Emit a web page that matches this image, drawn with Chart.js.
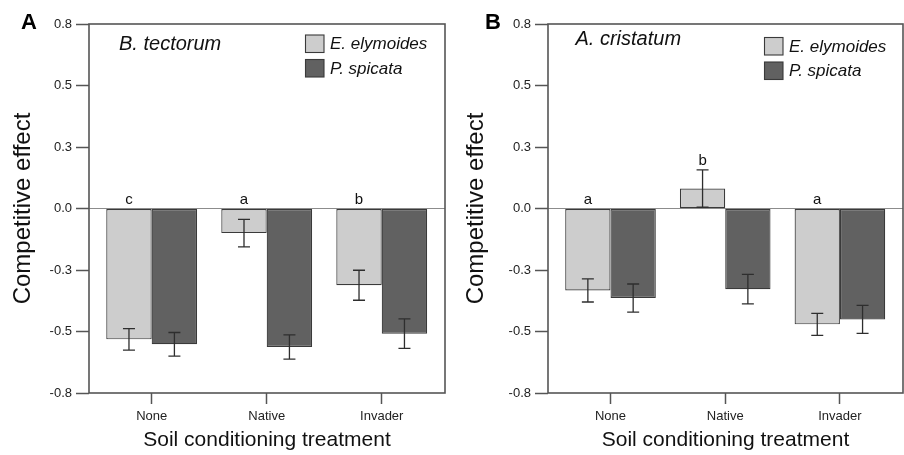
<!DOCTYPE html>
<html><head><meta charset="utf-8">
<script src="https://cdn.jsdelivr.net/npm/chart.js@4.4.1/dist/chart.umd.min.js"></script>
<style>
html,body{margin:0;padding:0;background:#fff;}
#wrap{position:relative;width:904px;height:455px;overflow:hidden;background:#fff;}
canvas{position:absolute;top:0;}
</style></head><body>
<div id="wrap">
<canvas id="cA" width="459" height="455" style="left:0;width:459px;height:455px"></canvas>
<canvas id="cB" width="445" height="455" style="left:459px;width:445px;height:455px"></canvas>
</div>
<script>
// ---- data ----
const categories = ['None', 'Native', 'Invader'];
const seriesNames = ['E. elymoides', 'P. spicata'];
const yTickValues = [-0.75, -0.5, -0.25, 0, 0.25, 0.5, 0.75];

// Panel A: B. tectorum
const tectorumElymoides    = [-0.532, -0.100, -0.312];
const tectorumElymoidesErr = [0.044, 0.056, 0.061];
const tectorumSpicata      = [-0.552, -0.563, -0.509];
const tectorumSpicataErr   = [0.048, 0.049, 0.060];
const tectorumLetters      = ['c', 'a', 'b'];

// Panel B: A. cristatum
const cristatumElymoides    = [-0.333, 0.081, -0.471];
const cristatumElymoidesErr = [0.047, 0.076, 0.045];
const cristatumSpicata      = [-0.364, -0.328, -0.451];
const cristatumSpicataErr   = [0.057, 0.060, 0.057];
const cristatumLetters      = ['a', 'b', 'a'];

// ---- styling ----
const FONT = "'Liberation Sans', Arial, Helvetica, sans-serif";
Chart.defaults.font.family = FONT;
const LIGHT = '#cdcdcd';
const DARK = '#616161';
const EDGE = '#3a3a3a';
const AXIS = '#555555';

function decorPlugin(p) {
  return {
    id: 'decor' + p.panel,
    afterDatasetsDraw(chart) {
      const ctx = chart.ctx, ys = chart.scales.y;
      // error bars
      chart.data.datasets.forEach((ds, di) => {
        const meta = chart.getDatasetMeta(di);
        meta.data.forEach((el, i) => {
          const v = ds.data[i].y, e = ds.errors[i];
          const x = el.x, yt = ys.getPixelForValue(v + e), yb = ys.getPixelForValue(v - e);
          ctx.save();
          ctx.strokeStyle = '#2e2e2e'; ctx.lineWidth = 1.3;
          ctx.beginPath();
          ctx.moveTo(x, yt); ctx.lineTo(x, yb);
          ctx.moveTo(x - 6, yt); ctx.lineTo(x + 6, yt);
          ctx.moveTo(x - 6, yb); ctx.lineTo(x + 6, yb);
          ctx.stroke();
          ctx.restore();
        });
      });
      // significance letters over first series
      const ds0 = chart.data.datasets[0], m0 = chart.getDatasetMeta(0);
      ctx.save();
      ctx.fillStyle = '#111'; ctx.font = '15px ' + FONT;
      ctx.textAlign = 'center'; ctx.textBaseline = 'alphabetic';
      m0.data.forEach((el, i) => {
        const v = ds0.data[i].y, e = ds0.errors[i];
        const anchor = v > 0 ? v + e : 0;
        ctx.fillText(p.letters[i], el.x, ys.getPixelForValue(anchor) - 5);
      });
      ctx.restore();
    },
    afterDraw(chart) {
      const ctx = chart.ctx, a = chart.chartArea;
      ctx.save();
      // frame
      ctx.strokeStyle = AXIS; ctx.lineWidth = 1.6;
      ctx.strokeRect(a.left, a.top, a.right - a.left, a.bottom - a.top);
      // panel letter
      ctx.fillStyle = '#000'; ctx.font = 'bold 22px ' + FONT;
      ctx.textAlign = 'left'; ctx.textBaseline = 'alphabetic';
      ctx.fillText(p.panel, p.panelX, 28.5);
      // species label
      ctx.fillStyle = '#111'; ctx.font = 'italic 20px ' + FONT;
      ctx.fillText(p.species, a.left + p.speciesDX, p.speciesY);
      // legend
      ctx.font = 'italic 17px ' + FONT; ctx.textBaseline = 'middle';
      chart.data.datasets.forEach((ds, di) => {
        const bx = a.right - p.legendDX, by = p.legendY + di * 24.5;
        ctx.fillStyle = ds.backgroundColor;
        ctx.fillRect(bx, by, 18.5, 17.5);
        ctx.strokeStyle = EDGE; ctx.lineWidth = 1.1;
        ctx.strokeRect(bx, by, 18.5, 17.5);
        ctx.fillStyle = '#111';
        ctx.fillText(ds.label, bx + 24.5, by + 9.5);
      });
      ctx.restore();
    }
  };
}

function makePanel(id, p) {
  return new Chart(document.getElementById(id), {
    type: 'bar',
    data: {
      datasets: [
        { label: seriesNames[0], data: p.s1.map((v, i) => ({ x: i, y: v })), errors: p.e1,
          backgroundColor: LIGHT, borderColor: EDGE, borderWidth: 1.2, borderSkipped: false },
        { label: seriesNames[1], data: p.s2.map((v, i) => ({ x: i, y: v })), errors: p.e2,
          backgroundColor: DARK, borderColor: EDGE, borderWidth: 1.2, borderSkipped: false }
      ]
    },
    options: {
      responsive: false,
      animation: false,
      devicePixelRatio: 1,
      categoryPercentage: 0.79,
      barPercentage: 1.0,
      layout: { padding: { left: 0, top: 24, right: p.padRight, bottom: 0 } },
      plugins: { legend: { display: false }, tooltip: { enabled: false }, title: { display: false } },
      scales: {
        x: {
          type: 'linear', min: -0.545, max: 2.55, offset: false,
          afterBuildTicks: s => { s.ticks = categories.map((c, i) => ({ value: i })); },
          ticks: { callback: v => categories[v], font: { size: 13 }, color: '#222', padding: 5, autoSkip: false, maxRotation: 0 },
          grid: { offset: false, drawOnChartArea: false, drawTicks: true, tickLength: 11, tickColor: AXIS, tickWidth: 1.5 },
          border: { display: false },
          title: { display: true, text: 'Soil conditioning treatment', font: { size: 21, lineHeight: 1 }, color: '#111', padding: { top: 0, bottom: 4 } },
          afterFit: s => { s.height = 62; }
        },
        y: {
          min: -0.75, max: 0.75,
          afterBuildTicks: s => { s.ticks = yTickValues.map(v => ({ value: v })); },
          ticks: { callback: v => Number(v).toFixed(1), font: { size: 13 }, color: '#222', padding: 4 },
          grid: {
            color: c => (c.tick && Math.abs(c.tick.value) < 1e-9) ? '#8c8c8c' : 'rgba(0,0,0,0)',
            lineWidth: 1, drawTicks: true, tickLength: 13, tickColor: AXIS, tickWidth: 1.5
          },
          border: { display: false },
          title: { display: true, text: 'Competitive effect', font: { size: 24, lineHeight: 1 }, color: '#111', padding: { top: p.yTitlePad, bottom: 0 } },
          afterFit: s => { s.width = 89; }
        }
      }
    },
    plugins: [decorPlugin(p)]
  });
}

makePanel('cA', {
  panel: 'A', panelX: 21, species: 'B. tectorum', speciesDX: 30, speciesY: 49.5,
  legendDX: 139.5, legendY: 35, padRight: 14, yTitlePad: 11,
  s1: tectorumElymoides, e1: tectorumElymoidesErr, s2: tectorumSpicata, e2: tectorumSpicataErr,
  letters: tectorumLetters
});
makePanel('cB', {
  panel: 'B', panelX: 26, species: 'A. cristatum', speciesDX: 27.5, speciesY: 45,
  legendDX: 138.5, legendY: 37.5, padRight: 1, yTitlePad: 5,
  s1: cristatumElymoides, e1: cristatumElymoidesErr, s2: cristatumSpicata, e2: cristatumSpicataErr,
  letters: cristatumLetters
});
</script>
</body></html>
